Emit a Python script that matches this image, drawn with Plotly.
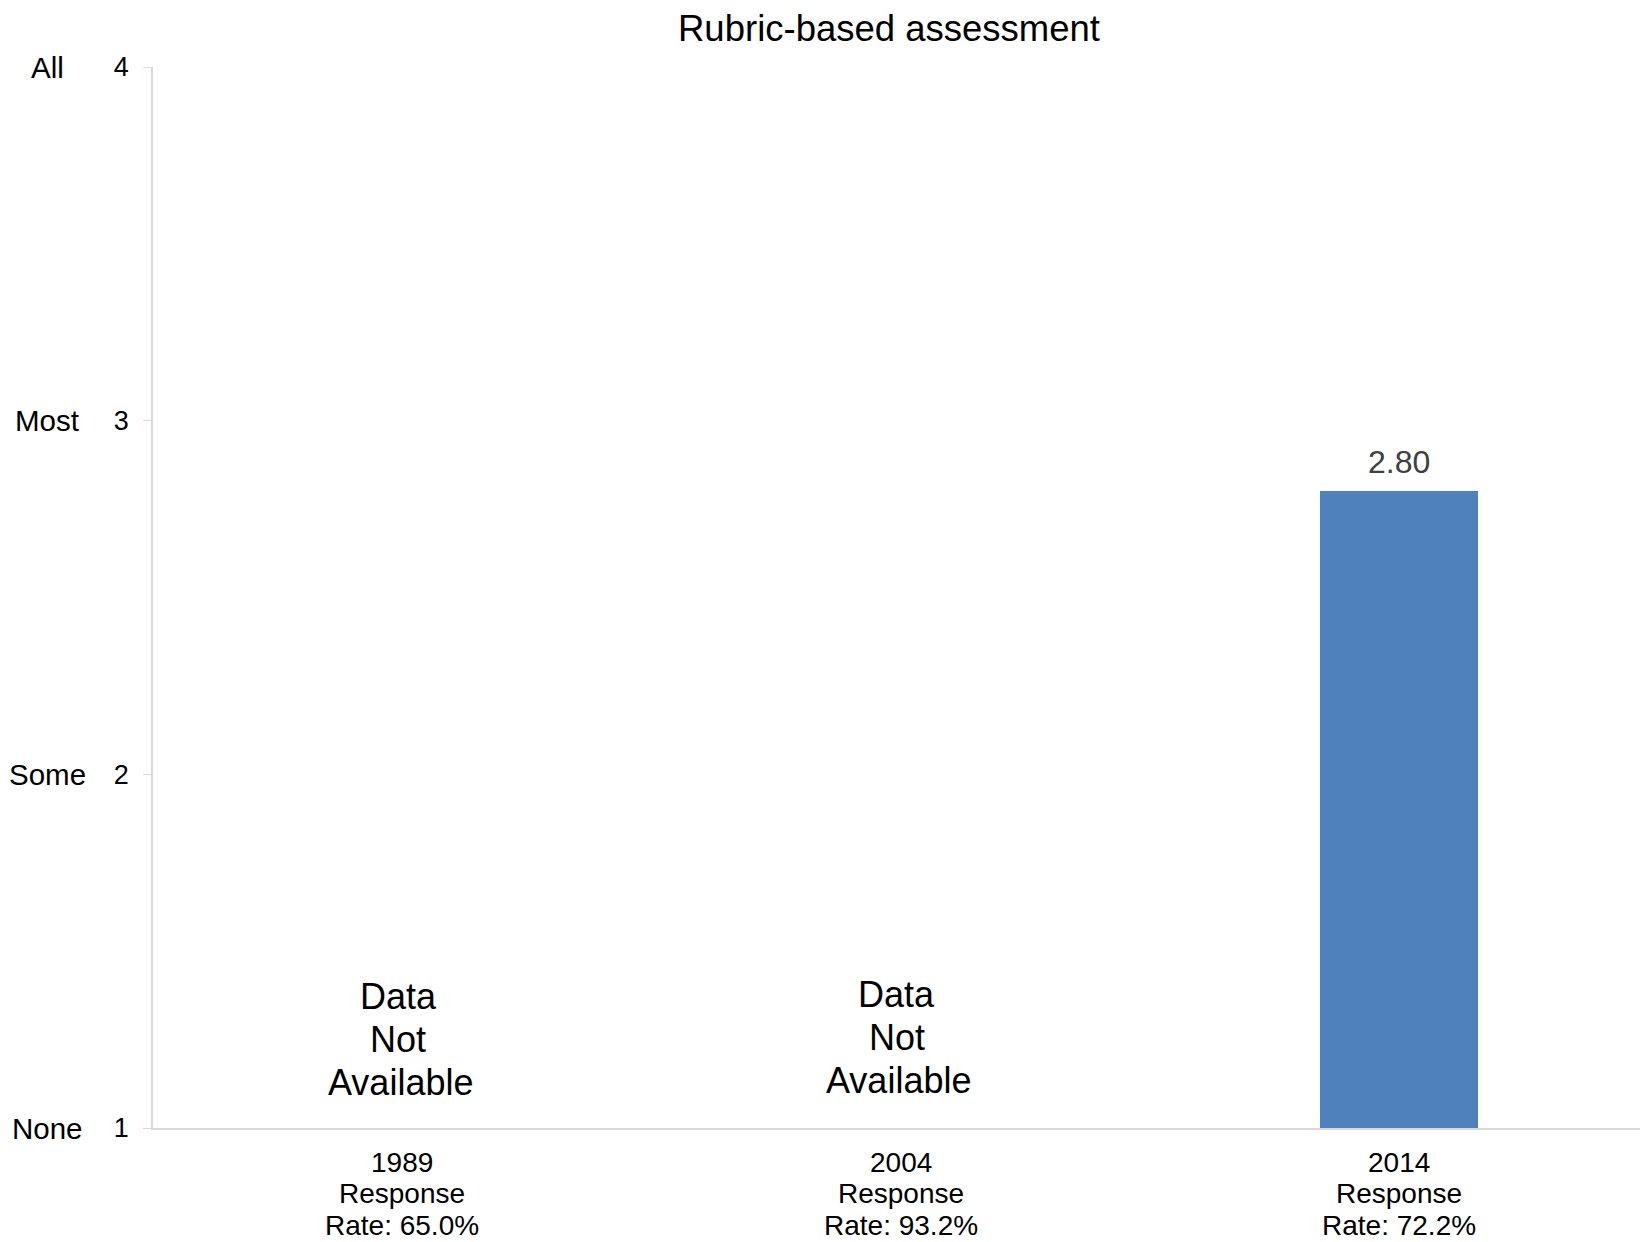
import plotly.graph_objects as go

# ---- data ----
years = ["1989", "2004", "2014"]
response_rates = ["65.0%", "93.2%", "72.2%"]
scores = [None, None, 2.80]
level_values = [1, 2, 3, 4]
level_names = ["None", "Some", "Most", "All"]
missing_lines = ["Data", "Not", "Available"]
title_text = "Rubric-based assessment"

FONT = "Liberation Sans, Arial, sans-serif"
# page body has an 8px margin; figure is sized to fit the 1648x1242 window
W, H = 1640, 1234
L, R, T, B = 145, 0, 59, 114
plot_w = W - L - R

fig = go.Figure()
fig.add_trace(go.Bar(
    x=years, y=scores, marker=dict(color="#4F81BD", line=dict(width=0)),
    width=0.317, showlegend=False, hoverinfo="skip",
))

annotations = []
# value labels above bars / missing-data notes (x given as category index)
for idx, (yr, v) in enumerate(zip(years, scores)):
    if v is not None:
        annotations.append(dict(
            x=idx, y=v, xref="x", yref="y", text=f"{v:.2f}", showarrow=False,
            yanchor="bottom", yshift=9, font=dict(family=FONT, size=32, color="#404040"),
        ))
    else:
        for j, line in enumerate(missing_lines):
            annotations.append(dict(
                x=idx, y=1.25, xref="x", yref="y", text=line, showarrow=False,
                yanchor="middle", xanchor="center", xshift=-4 if j < 2 else -2,
                yshift=43 * (1 - j) + (2 if idx == 1 else 0),
                font=dict(family=FONT, size=36, color="#000000"),
            ))

# x category labels (three lines each)
for idx, (yr, rr) in enumerate(zip(years, response_rates)):
    lines = [yr, "Response", f"Rate: {rr}"]
    for i, line in enumerate(lines):
        annotations.append(dict(
            x=idx, y=0, xref="x", yref="paper", text=line, showarrow=False,
            yanchor="middle", xanchor="center", yshift=-(34 + 31.5 * i),
            font=dict(family=FONT, size=28, color="#000000"),
        ))

# y level words
for val, name in zip(level_values, level_names):
    annotations.append(dict(
        x=(39 - L) / plot_w, y=val, xref="paper", yref="y", text=name,
        showarrow=False, xanchor="center", yanchor="middle",
        font=dict(family=FONT, size=29.5, color="#000000"),
    ))

fig.update_layout(
    width=W, height=H,
    margin=dict(l=L, r=R, t=T, b=B),
    paper_bgcolor="white", plot_bgcolor="white",
    title=dict(text=title_text, x=881 / W, xref="container", xanchor="center",
               y=1 - 20 / H, yref="container", yanchor="middle",
               font=dict(family=FONT, size=36.5, color="#000000")),
    xaxis=dict(type="category", range=[-0.5, 2.5], showticklabels=False,
               showline=True, linecolor="#D9D9D9", linewidth=1.5, ticks="",
               showgrid=False, zeroline=False, fixedrange=True),
    yaxis=dict(range=[1, 4], tickvals=level_values, ticks="outside", ticklen=8,
               tickcolor="#D9D9D9", showline=True, linecolor="#D9D9D9", linewidth=1.5,
               showgrid=False, zeroline=False, ticklabelstandoff=9,
               tickfont=dict(family=FONT, size=27, color="#000000")),
    annotations=annotations,
    bargap=0,
)

fig.write_html("out.html")
